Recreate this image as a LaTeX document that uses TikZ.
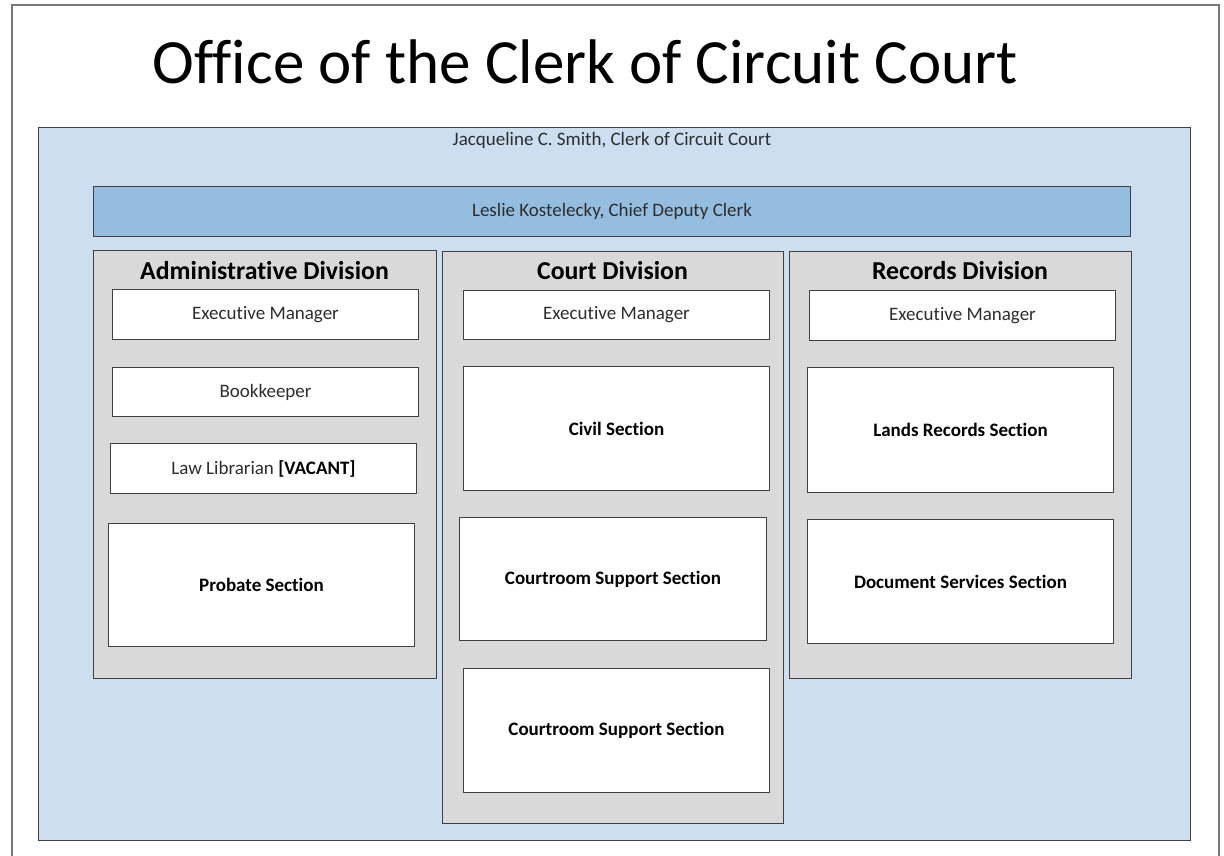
\documentclass[tikz,border=0pt]{standalone}
\usepackage{fontspec}
\setmainfont[Ligatures=NoCommon]{Carlito}
\definecolor{outerblue}{RGB}{204,222,240}
\definecolor{barblue}{RGB}{148,189,224}
\definecolor{divgray}{RGB}{217,217,217}
\definecolor{edge}{RGB}{64,64,64}
\definecolor{frame}{RGB}{120,120,120}
\definecolor{ink}{RGB}{45,45,45}
\begin{document}
\begin{tikzpicture}[x=1pt,y=-1pt,
  panel/.style={draw=edge, line width=1pt, anchor=north west, inner sep=0pt},
  wbox/.style={panel, fill=white, text=ink, font=\fontsize{19}{22}\selectfont},
  sbox/.style={panel, fill=white, text=black, font=\fontsize{19}{22}\selectfont\bfseries},
  divbox/.style={panel, fill=divgray},
  divtitle/.style={font=\fontsize{25.8}{30}\selectfont\bfseries, inner sep=0pt}]
\useasboundingbox (0,0) rectangle (1224,856);
\fill[white] (0,0) rectangle (1224,856);
\draw[frame, line width=1.2pt] (12,860) -- (12,5) -- (1219,5) -- (1219,860);
\node[font=\fontsize{63}{72}\selectfont, inner sep=0pt] (title) at (585,62) {Office of the Clerk of Circuit Court};
\node[panel, fill=outerblue, minimum width=1152pt, minimum height=713pt] (clerk) at (38,127) {};
\node[font=\fontsize{19}{22}\selectfont, text=ink, inner sep=0pt] (clerkt) at (612,140) {Jacqueline C. Smith, Clerk of Circuit Court};
\node[panel, fill=barblue, minimum width=1037pt, minimum height=50pt, text=ink, font=\fontsize{19}{22}\selectfont] (chief) at (93,186) {Leslie Kostelecky, Chief Deputy Clerk};
% divisions
\node[divbox, minimum width=343pt, minimum height=428pt] (adm) at (93,250) {};
\node[divtitle] (admt) at (264.5,271) {Administrative Division};
\node[divbox, minimum width=341pt, minimum height=572pt] (crt) at (442,251) {};
\node[divtitle] (crtt) at (612.5,271) {Court Division};
\node[divbox, minimum width=342pt, minimum height=427pt] (rec) at (789,251) {};
\node[divtitle] (rect) at (960,271) {Records Division};
% admin
\node[wbox, minimum width=306pt, minimum height=50pt] (a1) at (112,289) {Executive Manager};
\node[wbox, minimum width=306pt, minimum height=49pt] (a2) at (112,367) {Bookkeeper};
\node[wbox, minimum width=306pt, minimum height=50pt] (a3) at (110,443) {Law Librarian \textcolor{black}{\textbf{[VACANT]}}};
\node[sbox, minimum width=306pt, minimum height=123pt] (a4) at (108,523) {Probate Section};
% court
\node[wbox, minimum width=306pt, minimum height=49pt] (c1) at (463,290) {Executive Manager};
\node[sbox, minimum width=306pt, minimum height=124pt] (c2) at (463,366) {Civil Section};
\node[sbox, minimum width=307pt, minimum height=123pt] (c3) at (459,517) {Courtroom Support Section};
\node[sbox, minimum width=306pt, minimum height=124pt] (c4) at (463,668) {Courtroom Support Section};
% records
\node[wbox, minimum width=306pt, minimum height=50pt] (r1) at (809,290) {Executive Manager};
\node[sbox, minimum width=306pt, minimum height=125pt] (r2) at (807,367) {Lands Records Section};
\node[sbox, minimum width=306pt, minimum height=124pt] (r3) at (807,519) {Document Services Section};
\end{tikzpicture}
\end{document}
